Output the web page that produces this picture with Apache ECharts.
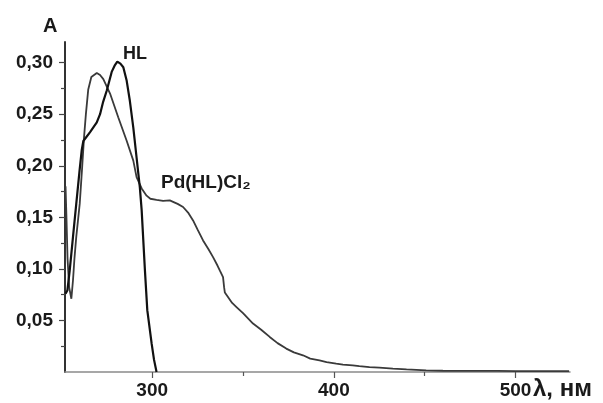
<!DOCTYPE html>
<html>
<head>
<meta charset="utf-8">
<script src="https://cdn.jsdelivr.net/npm/echarts@6/dist/echarts.min.js"></script>
<style>
html,body{margin:0;padding:0;background:#fff;}
#chart{width:603px;height:403px;}
</style>
</head>
<body>
<div id="chart"></div>
<script>
// HL spectrum
const hlWavelength = [252.3, 253.3, 254.6, 256.4, 258.2, 260.0, 261.2, 262.1, 265.8, 269.5, 271.3, 273.0, 275.0, 277.7, 279.3, 280.8, 282.5, 284.1, 285.9, 287.7, 289.6, 291.4, 293.2, 294.2, 296.0, 297.3, 299.7, 301.0, 302.4];
const hlAbsorbance = [0.076, 0.079, 0.0985, 0.131, 0.163, 0.195, 0.215, 0.224, 0.2326, 0.242, 0.250, 0.262, 0.273, 0.291, 0.297, 0.301, 0.299, 0.2955, 0.283, 0.263, 0.237, 0.208, 0.179, 0.157, 0.0985, 0.060, 0.0275, 0.012, 0.0];
// Pd(HL)Cl2 spectrum
const pdWavelength = [252.3, 252.8, 253.4, 254.3, 255.5, 256.4, 257.2, 258.2, 260.1, 261.5, 262.5, 263.5, 264.8, 266.5, 269.5, 271.3, 273.1, 276.8, 281.3, 285.9, 289.6, 291.4, 294.2, 296.9, 299.0, 302.4, 306.0, 309.7, 311.5, 314.0, 317.0, 320.0, 322.5, 325.0, 328.0, 331.0, 333.5, 336.0, 337.2, 339.0, 339.6, 340.0, 342.0, 344.0, 346.4, 350.0, 355.5, 360.0, 364.7, 369.0, 373.8, 378.0, 383.0, 387.0, 392.1, 396.0, 401.3, 405.0, 410.4, 414.0, 419.6, 425.0, 432.5, 440.0, 450.8, 460.0, 469.0, 480.0, 490.0, 500.0, 510.0, 520.0, 529.5];
const pdAbsorbance = [0.18, 0.15, 0.11, 0.082, 0.071, 0.089, 0.11, 0.131, 0.163, 0.200, 0.228, 0.250, 0.274, 0.286, 0.290, 0.288, 0.284, 0.270, 0.247, 0.2245, 0.205, 0.189, 0.178, 0.171, 0.168, 0.167, 0.166, 0.1664, 0.165, 0.163, 0.160, 0.154, 0.147, 0.138, 0.1276, 0.119, 0.1114, 0.103, 0.0985, 0.092, 0.082, 0.077, 0.072, 0.067, 0.063, 0.057, 0.047, 0.041, 0.034, 0.028, 0.0227, 0.019, 0.0162, 0.013, 0.0113, 0.0095, 0.0081, 0.0072, 0.0065, 0.0057, 0.0048, 0.0042, 0.0033, 0.0025, 0.0016, 0.0012, 0.0010, 0.0010, 0.0010, 0.0009, 0.0009, 0.0009, 0.0009];
// ticks
const xMajorTicks = [300, 400, 500];
const xMinorTicks = [350, 450];
const yMajorTicks = [0.05, 0.10, 0.15, 0.20, 0.25, 0.30];
const yMinorTicks = [0.025, 0.075, 0.125, 0.175, 0.225, 0.275];
const seriesNames = ['HL', 'Pd(HL)Cl₂'];

const zip = (a, b) => a.map((v, i) => [v, b[i]]);
const FONT = '"Liberation Sans", Arial, sans-serif';

const chart = echarts.init(document.getElementById('chart'), null, {renderer: 'canvas'});
chart.setOption({
  animation: false,
  backgroundColor: '#ffffff',
  grid: {left: 65, top: 42, width: 505, height: 330},
  xAxis: [
    {
      type: 'value', min: 252, max: 530, position: 'bottom',
      axisLine: {show: true, onZero: false, lineStyle: {color: '#8a8a8a', width: 1.5}},
      axisTick: {show: true, customValues: xMajorTicks, length: 6, lineStyle: {color: '#555', width: 1.2}},
      axisLabel: {show: true, customValues: xMajorTicks, fontSize: 19, fontWeight: 'bold', color: '#1a1a1a', fontFamily: FONT, margin: 9},
      splitLine: {show: false}
    },
    {
      type: 'value', min: 252, max: 530, position: 'bottom',
      axisLine: {show: false},
      axisTick: {show: true, customValues: xMinorTicks, length: 4, lineStyle: {color: '#555', width: 1.2}},
      axisLabel: {show: false},
      splitLine: {show: false}
    }
  ],
  yAxis: [
    {
      type: 'value', min: 0, max: 0.32, position: 'left',
      axisLine: {show: true, onZero: false, lineStyle: {color: '#333', width: 2}},
      axisTick: {show: true, customValues: yMajorTicks, length: 6, lineStyle: {color: '#444', width: 1.2}},
      axisLabel: {show: true, customValues: yMajorTicks, fontSize: 19, fontWeight: 'bold', color: '#1a1a1a', fontFamily: FONT, margin: 12,
        formatter: v => v.toFixed(2).replace('.', ',')},
      splitLine: {show: false}
    },
    {
      type: 'value', min: 0, max: 0.32, position: 'left',
      axisLine: {show: false},
      axisTick: {show: true, customValues: yMinorTicks, length: 4, lineStyle: {color: '#444', width: 1.2}},
      axisLabel: {show: false},
      splitLine: {show: false}
    }
  ],
  series: [
    {
      name: seriesNames[1], type: 'line', xAxisIndex: 0, yAxisIndex: 0,
      data: zip(pdWavelength, pdAbsorbance), showSymbol: false, smooth: false,
      lineStyle: {color: '#3a3a3a', width: 1.8}, z: 2
    },
    {
      name: seriesNames[0], type: 'line', xAxisIndex: 0, yAxisIndex: 0,
      data: zip(hlWavelength, hlAbsorbance), showSymbol: false, smooth: false,
      lineStyle: {color: '#111', width: 2.2}, z: 3
    }
  ],
  graphic: [
    {type: 'text', left: 43, top: 16, style: {text: 'A', font: 'bold 20px ' + FONT, fill: '#1a1a1a'}},
    {type: 'text', left: 123, top: 45, style: {text: seriesNames[0], font: 'bold 18px ' + FONT, fill: '#1a1a1a'}},
    {type: 'text', left: 161, top: 173, style: {text: seriesNames[1], font: 'bold 19px ' + FONT, fill: '#1a1a1a'}},
    {type: 'text', left: 533, top: 377, style: {text: 'λ, нм', font: 'bold 24px ' + FONT, fill: '#1a1a1a'}}
  ]
});
</script>
</body>
</html>
